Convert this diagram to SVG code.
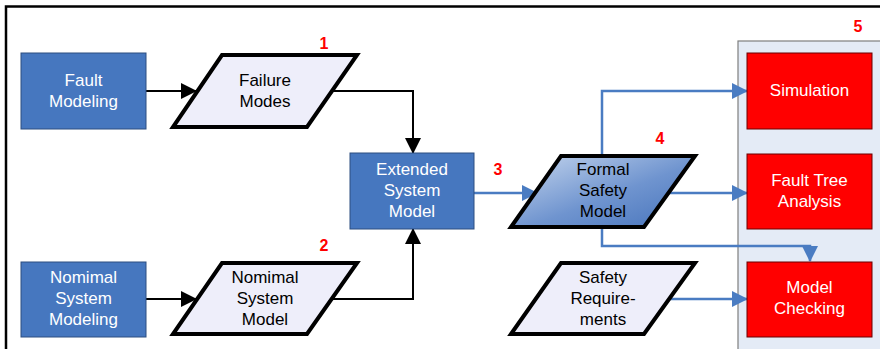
<svg xmlns="http://www.w3.org/2000/svg" width="880" height="349" viewBox="0 0 880 349">
<defs>
<marker id="ab" markerUnits="userSpaceOnUse" markerWidth="16" markerHeight="16" refX="15" refY="8" orient="auto"><path d="M0,0 L16,8 L0,16 z" fill="#000"/></marker>
<marker id="au" markerUnits="userSpaceOnUse" markerWidth="16" markerHeight="16" refX="15" refY="8" orient="auto"><path d="M0,0 L16,8 L0,16 z" fill="#4A7CC2"/></marker>
<linearGradient id="gfs" x1="0" y1="0" x2="1" y2="1">
<stop offset="0" stop-color="#C7D7EE"/>
<stop offset="0.55" stop-color="#6F94CF"/>
<stop offset="1" stop-color="#4673BB"/>
</linearGradient>
<style>
text{font-family:"Liberation Sans",Arial,sans-serif;font-size:17px;text-anchor:middle}
.bb{fill:#4677BF;stroke:#2C4E80;stroke-width:1}
.rb{fill:#FF0000;stroke:#6B0000;stroke-width:1}
.pg{fill:#EEEEFA;stroke:#000;stroke-width:4;stroke-linejoin:miter}
.wt{fill:#fff}
.kt{fill:#000}
.num{fill:#FF0000;font-weight:bold;font-size:16px}
.ck{fill:none;stroke:#000;stroke-width:2}
.cu{fill:none;stroke:#4A7CC2;stroke-width:2.5}
</style>
</defs>
<rect x="0" y="0" width="880" height="349" fill="#fff"/>
<rect x="6" y="6.5" width="910" height="400" fill="none" stroke="#000" stroke-width="2.5"/>
<g id="panel5">
<rect x="738" y="41" width="200" height="400" fill="#E4EBF6" stroke="#7F7F7F" stroke-width="1.2"/>
<text class="num" x="858" y="32">5</text>
</g>
<g id="connectors">
<path class="ck" d="M146,91 H196" marker-end="url(#ab)"/>
<path class="ck" d="M333,91 H413 V153" marker-end="url(#ab)"/>
<path class="ck" d="M146,299 H196" marker-end="url(#ab)"/>
<path class="ck" d="M333,299 H413 V229" marker-end="url(#ab)"/>
<path class="cu" d="M474,193 H537" marker-end="url(#au)"/>
<path class="cu" d="M602,155 V91 H747" marker-end="url(#au)"/>
<path class="cu" d="M668,193 H747" marker-end="url(#au)"/>
<path class="cu" d="M602,227 V246 H810 V261" marker-end="url(#au)"/>
<path class="cu" d="M668,299 H747" marker-end="url(#au)"/>
</g>
<g id="fault-modeling">
<rect class="bb" x="21" y="53" width="125" height="76"/>
<text class="wt" x="83.5" y="86">Fault</text>
<text class="wt" x="83.5" y="107">Modeling</text>
</g>
<g id="failure-modes">
<polygon class="pg" points="222,55 357,55 307,127 173,127"/>
<text class="kt" x="265" y="86">Failure</text>
<text class="kt" x="265" y="107">Modes</text>
<text class="num" x="324" y="49">1</text>
</g>
<g id="nominal-system-modeling">
<rect class="bb" x="21" y="262" width="125" height="75"/>
<text class="wt" x="83.5" y="283">Nomimal</text>
<text class="wt" x="83.5" y="304">System</text>
<text class="wt" x="83.5" y="325">Modeling</text>
</g>
<g id="nominal-system-model">
<polygon class="pg" points="222,263 357,263 307,334 173,334"/>
<text class="kt" x="265" y="283">Nomimal</text>
<text class="kt" x="265" y="304">System</text>
<text class="kt" x="265" y="325">Model</text>
<text class="num" x="324" y="251">2</text>
</g>
<g id="extended-system-model">
<rect class="bb" x="350" y="153" width="124" height="76"/>
<text class="wt" x="412" y="175">Extended</text>
<text class="wt" x="412" y="196">System</text>
<text class="wt" x="412" y="217">Model</text>
<text class="num" x="498" y="175">3</text>
</g>
<g id="formal-safety-model">
<polygon points="561,156 695,156 644,227 511,227" fill="url(#gfs)" stroke="#000" stroke-width="4"/>
<text class="kt" x="603" y="175">Formal</text>
<text class="kt" x="603" y="196">Safety</text>
<text class="kt" x="603" y="217">Model</text>
<text class="num" x="660" y="144">4</text>
</g>
<g id="safety-requirements">
<polygon class="pg" points="561,263 695,263 644,334 511,334"/>
<text class="kt" x="603" y="283">Safety</text>
<text class="kt" x="603" y="304">Require-</text>
<text class="kt" x="603" y="325">ments</text>
</g>
<g id="simulation">
<rect class="rb" x="747" y="53" width="125" height="76"/>
<text class="wt" x="809.5" y="96">Simulation</text>
</g>
<g id="fault-tree-analysis">
<rect class="rb" x="747" y="154" width="125" height="75"/>
<text class="wt" x="809.5" y="186">Fault Tree</text>
<text class="wt" x="809.5" y="207">Analysis</text>
</g>
<g id="model-checking">
<rect class="rb" x="747" y="262" width="125" height="75"/>
<text class="wt" x="809.5" y="293">Model</text>
<text class="wt" x="809.5" y="314">Checking</text>
</g>
</svg>
